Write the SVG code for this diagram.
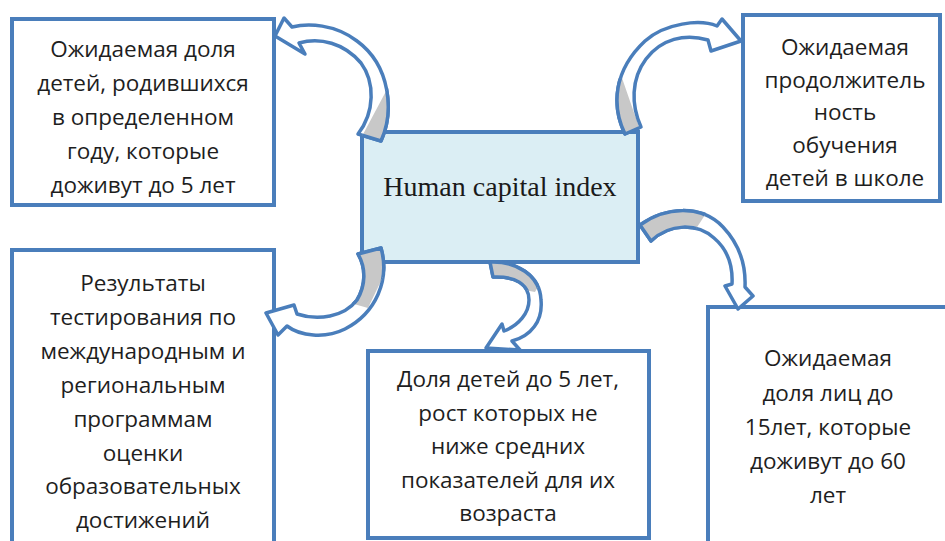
<svg xmlns="http://www.w3.org/2000/svg" xmlns:xlink="http://www.w3.org/1999/xlink" width="945" height="541" viewBox="0 0 945 541">
<style>
.box{fill:#ffffff;stroke:#4a7ebb;stroke-width:4}
.center{fill:#dbeef4;stroke:#4a7ebb;stroke-width:4}
.t{font-family:"Open Sans","Liberation Sans",sans-serif;font-size:22.5px;fill:#1e1e1e;text-anchor:middle}
.ct{font-family:"Liberation Serif","Times New Roman",serif;font-size:28px;fill:#1a1a1a;text-anchor:middle}
.arw{fill:#ffffff;stroke:#4a7ebb;stroke-width:3.5;stroke-linejoin:round}
.gr{fill:#c8c8c8;stroke:#4a7ebb;stroke-width:3.5;stroke-linejoin:round}
</style>
<defs>
<path id="p1" d="M381,141 C394,112 391,66 357,41 C335,24 308,23 292,27 L284,18 L275,36 L305,54 L299,43 C320,37 344,43 361,63 C375,82 375,112 358,134 Z"/>
<path id="p2" d="M625,134 C611,105 614,70 645,41 C665,23 700,19 717,26 L722,19 L741,41 L711,51 L708,40 C685,33 661,39 646,59 C631,79 631,105 641,127 Z"/>
<path id="p3" d="M381,248 C390,280 376,313 345,329 C325,339 300,336 287,326 L278,335 L266,313 L294,305 L297,314 C318,321 344,317 357,300 C366,285 366,268 358,254 Z"/>
<path id="p4" d="M490,262 C516,261 540,275 541,300 C543,321 531,336 512,341 L520,350 L486,348 L502,324 L504,331 C519,325 529,313 529,300 C529,284 515,276 493,277 Z"/>
<path id="p5" d="M640,225 C665,207 701,204 723,227 C740,245 746,265 745,287 L753,296 L738,309 L725,286 L732,284 C733,265 727,249 714,238 C697,223 670,223 651,241 Z"/>
<clipPath id="k1"><polygon points="340,150 400,150 392,80 360,140"/></clipPath>
<clipPath id="k2"><polygon points="600,150 660,150 640,130 622,78 600,80"/></clipPath>
<clipPath id="k3"><polygon points="340,235 400,235 392,258 368,308 340,300"/></clipPath>
<clipPath id="k4"><polygon points="480,250 525,250 545,275 535,292 480,282"/></clipPath>
<clipPath id="k5"><polygon points="625,195 718,195 690,238 625,255"/></clipPath>
</defs>

<g id="node-top-left">
<rect class="box" x="12" y="19" width="262" height="186"/>
<text class="t" x="143" y="57">Ожидаемая доля</text>
<text class="t" x="143" y="91">детей, родившихся</text>
<text class="t" x="143" y="125">в определенном</text>
<text class="t" x="143" y="159">году, которые</text>
<text class="t" x="143" y="193">доживут до 5 лет</text>
</g>

<g id="node-top-right">
<rect class="box" x="743" y="15" width="197" height="186"/>
<text class="t" x="845" y="55">Ожидаемая</text>
<text class="t" x="845" y="88">продолжитель</text>
<text class="t" x="845" y="120">ность</text>
<text class="t" x="845" y="153">обучения</text>
<text class="t" x="845" y="186">детей в школе</text>
</g>

<g id="node-center">
<rect class="center" x="362" y="132" width="276" height="130"/>
<text class="ct" x="500" y="196">Human capital index</text>
</g>

<g id="node-bottom-left">
<rect class="box" x="12" y="250" width="262" height="320"/>
<text class="t" x="143" y="291">Результаты</text>
<text class="t" x="143" y="325">тестирования по</text>
<text class="t" x="143" y="359">международным и</text>
<text class="t" x="143" y="393">региональным</text>
<text class="t" x="143" y="427">программам</text>
<text class="t" x="143" y="461">оценки</text>
<text class="t" x="143" y="494">образовательных</text>
<text class="t" x="143" y="528">достижений</text>
</g>

<g id="node-bottom-center">
<rect class="box" x="368" y="351" width="281" height="187"/>
<text class="t" x="508" y="387">Доля детей до 5 лет,</text>
<text class="t" x="508" y="421">рост которых не</text>
<text class="t" x="508" y="454">ниже средних</text>
<text class="t" x="508" y="488">показателей для их</text>
<text class="t" x="508" y="521">возраста</text>
</g>

<g id="node-bottom-right">
<rect class="box" x="708" y="307" width="260" height="260"/>
<text class="t" x="828" y="366">Ожидаемая</text>
<text class="t" x="828" y="401">доля лиц до</text>
<text class="t" x="828" y="435">15лет, которые</text>
<text class="t" x="828" y="469">доживут до 60</text>
<text class="t" x="828" y="503">лет</text>
</g>

<g id="connectors">
<use xlink:href="#p1" class="arw"/><use xlink:href="#p1" class="gr" clip-path="url(#k1)"/>
<use xlink:href="#p2" class="arw"/><use xlink:href="#p2" class="gr" clip-path="url(#k2)"/>
<use xlink:href="#p3" class="arw"/><use xlink:href="#p3" class="gr" clip-path="url(#k3)"/>
<use xlink:href="#p4" class="arw"/><use xlink:href="#p4" class="gr" clip-path="url(#k4)"/>
<use xlink:href="#p5" class="arw"/><use xlink:href="#p5" class="gr" clip-path="url(#k5)"/>
</g>
</svg>
